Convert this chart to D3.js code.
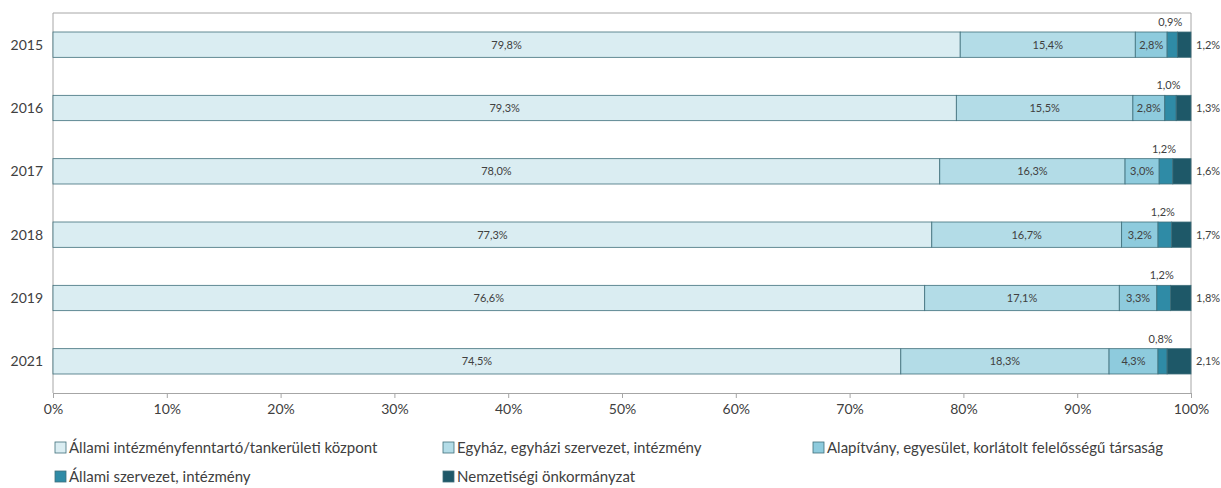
<!DOCTYPE html>
<html>
<head>
<meta charset="utf-8">
<script src="https://cdn.jsdelivr.net/npm/d3@7"></script>
<style>
  body { margin: 0; background: #fff; }
  svg text { font-family: Lato, "Open Sans", sans-serif; fill: #404040; }
</style>
</head>
<body>
<svg id="chart"></svg>
<script>
// data
const years = ["2015", "2016", "2017", "2018", "2019", "2021"];
const seriesNames = [
  "Állami intézményfenntartó/tankerületi központ",
  "Egyház, egyházi szervezet, intézmény",
  "Alapítvány, egyesület, korlátolt felelősségű társaság",
  "Állami szervezet, intézmény",
  "Nemzetiségi önkormányzat"
];
const allami = [79.8, 79.3, 78.0, 77.3, 76.6, 74.5];
const egyhaz = [15.4, 15.5, 16.3, 16.7, 17.1, 18.3];
const alapitvany = [2.8, 2.8, 3.0, 3.2, 3.3, 4.3];
const allamiSzerv = [0.9, 1.0, 1.2, 1.2, 1.2, 0.8];
const nemzetisegi = [1.2, 1.3, 1.6, 1.7, 1.8, 2.1];
const xTicks = [0, 10, 20, 30, 40, 50, 60, 70, 80, 90, 100];

const colors = ["#daedf2", "#b3dce7", "#8ecbdd", "#2f8ba6", "#1e5868"];

const w = 1221, h = 488;
const plotLeft = 53, plotRight = 1191, plotTop = 13, plotBottom = 393;

const svg = d3.select("#chart").attr("width", w).attr("height", h);

// build rows, normalised to 100%
const series = [allami, egyhaz, alapitvany, allamiSzerv, nemzetisegi];
const rows = years.map((y, i) => {
  const vals = series.map(s => s[i]);
  const total = d3.sum(vals);
  let acc = 0;
  const segs = vals.map((v, k) => {
    const s = {year: y, k: k, value: v, x0: acc / total * 100, x1: (acc + v) / total * 100};
    acc += v;
    return s;
  });
  return {year: y, segs: segs};
});

const xScale = d3.scaleLinear().domain([0, 100]).range([plotLeft, plotRight]);
const yScale = d3.scaleBand().domain(years).range([plotTop, plotBottom]).paddingInner(0.6).paddingOuter(0.3);

const fmt = v => v.toFixed(1).replace(".", ",") + "%";

// plot border (top, left, right)
svg.append("path")
   .attr("d", `M${plotLeft},${plotBottom}V${plotTop}H${plotRight}V${plotBottom}`)
   .attr("fill", "none")
   .attr("stroke", "#a6a6a6")
   .attr("stroke-width", 1);

// x axis
const xAxis = d3.axisBottom(xScale)
                .tickValues(xTicks)
                .tickFormat(d => d + "%")
                .tickSize(5)
                .tickPadding(6);
const ax = svg.append("g")
   .attr("transform", "translate(0," + plotBottom + ")")
   .call(xAxis);
ax.select(".domain").attr("stroke", "#a6a6a6");
ax.selectAll(".tick line").attr("stroke", "#a6a6a6");
ax.selectAll(".tick text")
  .style("font-size", "14px")
  .style("font-family", "Lato, sans-serif")
  .attr("fill", "#404040");

// year labels
svg.selectAll(".year")
   .data(years)
   .enter()
   .append("text")
   .attr("class", "year")
   .attr("x", plotLeft - 10)
   .attr("y", d => yScale(d) + yScale.bandwidth() / 2)
   .attr("dy", "0.35em")
   .attr("text-anchor", "end")
   .style("font-size", "14px")
   .text(d => d);

// bars
const rowG = svg.selectAll(".row")
   .data(rows)
   .enter()
   .append("g")
   .attr("class", "row");

rowG.selectAll("rect")
   .data(d => d.segs)
   .enter()
   .append("rect")
   .attr("x", d => xScale(d.x0))
   .attr("y", d => yScale(d.year))
   .attr("width", d => xScale(d.x1) - xScale(d.x0))
   .attr("height", yScale.bandwidth())
   .attr("fill", d => colors[d.k])
   .attr("stroke", "#3f6f7b")
   .attr("stroke-width", 0.8);

// labels inside the bigger segments
rowG.selectAll(".inlabel")
   .data(d => d.segs.filter(s => s.k < 3))
   .enter()
   .append("text")
   .attr("class", "inlabel")
   .attr("x", d => (xScale(d.x0) + xScale(d.x1)) / 2)
   .attr("y", d => yScale(d.year) + yScale.bandwidth() / 2)
   .attr("dy", "0.35em")
   .attr("text-anchor", "middle")
   .style("font-size", "11px")
   .text(d => fmt(d.value));

// small state segment: label above the bar
rowG.selectAll(".toplabel")
   .data(d => d.segs.filter(s => s.k == 3))
   .enter()
   .append("text")
   .attr("class", "toplabel")
   .attr("x", d => (xScale(d.x0) + xScale(d.x1)) / 2 - 2)
   .attr("y", d => yScale(d.year) - 6)
   .attr("text-anchor", "middle")
   .style("font-size", "11px")
   .text(d => fmt(d.value));

// last segment: label right of the bar
rowG.selectAll(".rightlabel")
   .data(d => d.segs.filter(s => s.k == 4))
   .enter()
   .append("text")
   .attr("class", "rightlabel")
   .attr("x", plotRight + 5)
   .attr("y", d => yScale(d.year) + yScale.bandwidth() / 2)
   .attr("dy", "0.35em")
   .style("font-size", "11px")
   .text(d => fmt(d.value));

// legend
const legendPos = [
  {x: 55, y: 448}, {x: 443, y: 448}, {x: 813, y: 448},
  {x: 55, y: 477}, {x: 443, y: 477}
];
const legend = svg.selectAll(".legend")
   .data(seriesNames)
   .enter()
   .append("g")
   .attr("class", "legend")
   .attr("transform", (d, i) => "translate(" + legendPos[i].x + "," + legendPos[i].y + ")");

legend.append("rect")
   .attr("x", 0)
   .attr("y", -6)
   .attr("width", 11)
   .attr("height", 11)
   .attr("fill", (d, i) => colors[i])
   .attr("stroke", "#3f6f7b")
   .attr("stroke-width", 0.8);

legend.append("text")
   .attr("x", 14)
   .attr("y", 0)
   .attr("dy", "0.35em")
   .style("font-size", "15px")
   .text(d => d);
</script>
</body>
</html>
